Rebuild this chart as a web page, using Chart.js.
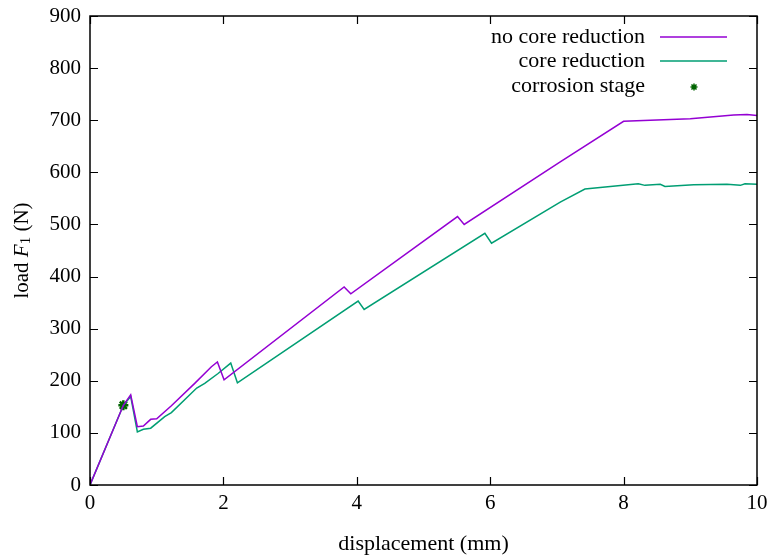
<!DOCTYPE html>
<html><head><meta charset="utf-8">
<script src="https://cdn.jsdelivr.net/npm/chart.js@4"></script>
<style>html,body{margin:0;padding:0;background:#fff}#wrap{width:774px;height:559px}</style>
</head><body><div id="wrap"><canvas id="c" width="774" height="559"></canvas></div>
<script>
// ---- data ----
const dispNoCore = [0, 0.5, 0.61, 0.71, 0.8, 0.91, 1.0, 1.22, 1.57, 1.82, 1.91, 2.01, 3.81, 3.91, 5.51, 5.61, 7.05, 8.0, 9.0, 9.65, 9.85, 10.0];
const loadNoCore = [0, 153, 173, 112, 113, 126, 127, 152, 195, 227, 236, 202, 380, 367, 515, 500, 620, 698, 703, 710, 711, 709];

const dispCore = [0, 0.5, 0.61, 0.71, 0.8, 0.91, 1.12, 1.22, 1.6, 1.72, 1.92, 2.11, 2.21, 4.02, 4.11, 5.92, 6.02, 7.05, 7.42, 8.22, 8.32, 8.55, 8.62, 9.05, 9.55, 9.75, 9.82, 10.0];
const loadCore = [0, 153, 170, 102, 107, 109, 131, 139, 186, 195, 214, 234, 196, 353, 337, 483, 464, 543, 568, 578, 575, 577, 573, 576, 577, 575, 578, 577];

const dispCorrosion = [0.5];
const loadCorrosion = [153];

const seriesNames = ["no core reduction", "core reduction", "corrosion stage"];
const xTicks = [0, 2, 4, 6, 8, 10];
const yTicks = [0, 100, 200, 300, 400, 500, 600, 700, 800, 900];
const xTitle = "displacement (mm)";

const PURPLE = "#9400D3", GREEN = "#009E73", DKGREEN = "#006400";
const FONT = "'Liberation Serif', 'DejaVu Serif', serif";

function pts(xs, ys) { return xs.map((x, i) => ({ x: x, y: ys[i] })); }

function drawStar(ctx, x, y, r, w, col) {
  ctx.save();
  ctx.strokeStyle = col; ctx.lineWidth = w;
  ctx.beginPath();
  ctx.moveTo(x - r, y); ctx.lineTo(x + r, y);
  ctx.moveTo(x, y - r); ctx.lineTo(x, y + r);
  const d = r * 0.72;
  ctx.moveTo(x - d, y - d); ctx.lineTo(x + d, y + d);
  ctx.moveTo(x - d, y + d); ctx.lineTo(x + d, y - d);
  ctx.stroke();
  ctx.restore();
}

const decor = {
  id: 'decor',
  afterDraw(chart) {
    const ctx = chart.ctx, a = chart.chartArea;
    const xs = chart.scales.x, ys = chart.scales.y;
    ctx.save();
    // frame
    ctx.strokeStyle = '#000'; ctx.lineWidth = 1.5;
    ctx.strokeRect(a.left, a.top, a.right - a.left, a.bottom - a.top);
    // inward ticks on all sides
    const tl = 8;
    ctx.lineWidth = 1.2;
    ctx.beginPath();
    xTicks.forEach(v => {
      const p = Math.round(xs.getPixelForValue(v)) + 0.5;
      ctx.moveTo(p, a.bottom); ctx.lineTo(p, a.bottom - tl);
      ctx.moveTo(p, a.top); ctx.lineTo(p, a.top + tl);
    });
    yTicks.forEach(v => {
      const p = Math.round(ys.getPixelForValue(v)) + 0.5;
      ctx.moveTo(a.left, p); ctx.lineTo(a.left + tl, p);
      ctx.moveTo(a.right, p); ctx.lineTo(a.right - tl, p);
    });
    ctx.stroke();

    // legend
    ctx.fillStyle = '#000';
    ctx.font = "22px " + FONT;
    ctx.textAlign = 'right'; ctx.textBaseline = 'middle';
    const lx = 645, rows = [37, 61, 86];
    ctx.fillText(seriesNames[0], lx, rows[0]);
    ctx.fillText(seriesNames[1], lx, rows[1]);
    ctx.fillText(seriesNames[2], lx, rows[2]);
    ctx.lineWidth = 1.5;
    ctx.strokeStyle = PURPLE;
    ctx.beginPath(); ctx.moveTo(660, rows[0]); ctx.lineTo(727, rows[0]); ctx.stroke();
    ctx.strokeStyle = GREEN;
    ctx.beginPath(); ctx.moveTo(660, rows[1]); ctx.lineTo(727, rows[1]); ctx.stroke();
    drawStar(ctx, 694, rows[2] + 1, 3.5, 1.5, DKGREEN);

    // x title
    ctx.font = "22px " + FONT;
    ctx.textAlign = 'center'; ctx.textBaseline = 'middle';
    ctx.fillText(xTitle, (a.left + a.right) / 2, 544);

    // y title: load F_1 (N), rotated
    ctx.translate(22, (a.top + a.bottom) / 2);
    ctx.rotate(-Math.PI / 2);
    ctx.textAlign = 'left'; ctx.textBaseline = 'middle';
    const parts = [
      { t: "load ", f: "21px " + FONT, dy: 0 },
      { t: "F", f: "italic 21px " + FONT, dy: 0 },
      { t: "1", f: "15px " + FONT, dy: 4 },
      { t: " (N)", f: "21px " + FONT, dy: 0 }
    ];
    let total = 0;
    parts.forEach(p => { ctx.font = p.f; p.w = ctx.measureText(p.t).width; total += p.w; });
    let cx = -total / 2;
    parts.forEach(p => { ctx.font = p.f; ctx.fillText(p.t, cx, p.dy); cx += p.w; });
    ctx.restore();
  }
};

new Chart(document.getElementById('c'), {
  type: 'scatter',
  data: {
    datasets: [
      { label: seriesNames[0], data: pts(dispNoCore, loadNoCore), showLine: true, borderColor: PURPLE, borderWidth: 1.5, pointRadius: 0, tension: 0 },
      { label: seriesNames[1], data: pts(dispCore, loadCore), showLine: true, borderColor: GREEN, borderWidth: 1.5, pointRadius: 0, tension: 0 },
      { label: seriesNames[2], data: pts(dispCorrosion, loadCorrosion), showLine: false, pointStyle: 'star', pointRadius: 5, borderColor: DKGREEN, backgroundColor: DKGREEN, pointBorderWidth: 2.5 }
    ]
  },
  options: {
    responsive: false,
    animation: false,
    devicePixelRatio: 1,
    layout: { padding: { top: 16, right: 17, left: 0, bottom: 0 } },
    plugins: { legend: { display: false }, tooltip: { enabled: false } },
    scales: {
      x: {
        type: 'linear', min: 0, max: 10,
        afterBuildTicks: s => { s.ticks = xTicks.map(v => ({ value: v })); },
        ticks: { color: '#000', font: { family: FONT, size: 21 }, padding: 6, maxRotation: 0 },
        grid: { display: false, drawTicks: false }, border: { display: false },
        afterFit: s => { s.height = 74; s.paddingLeft = 0; s.paddingRight = 0; }
      },
      y: {
        type: 'linear', min: 0, max: 900,
        afterBuildTicks: s => { s.ticks = yTicks.map(v => ({ value: v })); },
        ticks: { color: '#000', font: { family: FONT, size: 21 }, padding: 9 },
        grid: { display: false, drawTicks: false }, border: { display: false },
        afterFit: s => { s.width = 90; s.paddingTop = 0; s.paddingBottom = 0; }
      }
    }
  },
  plugins: [decor]
});
</script>
</body></html>
